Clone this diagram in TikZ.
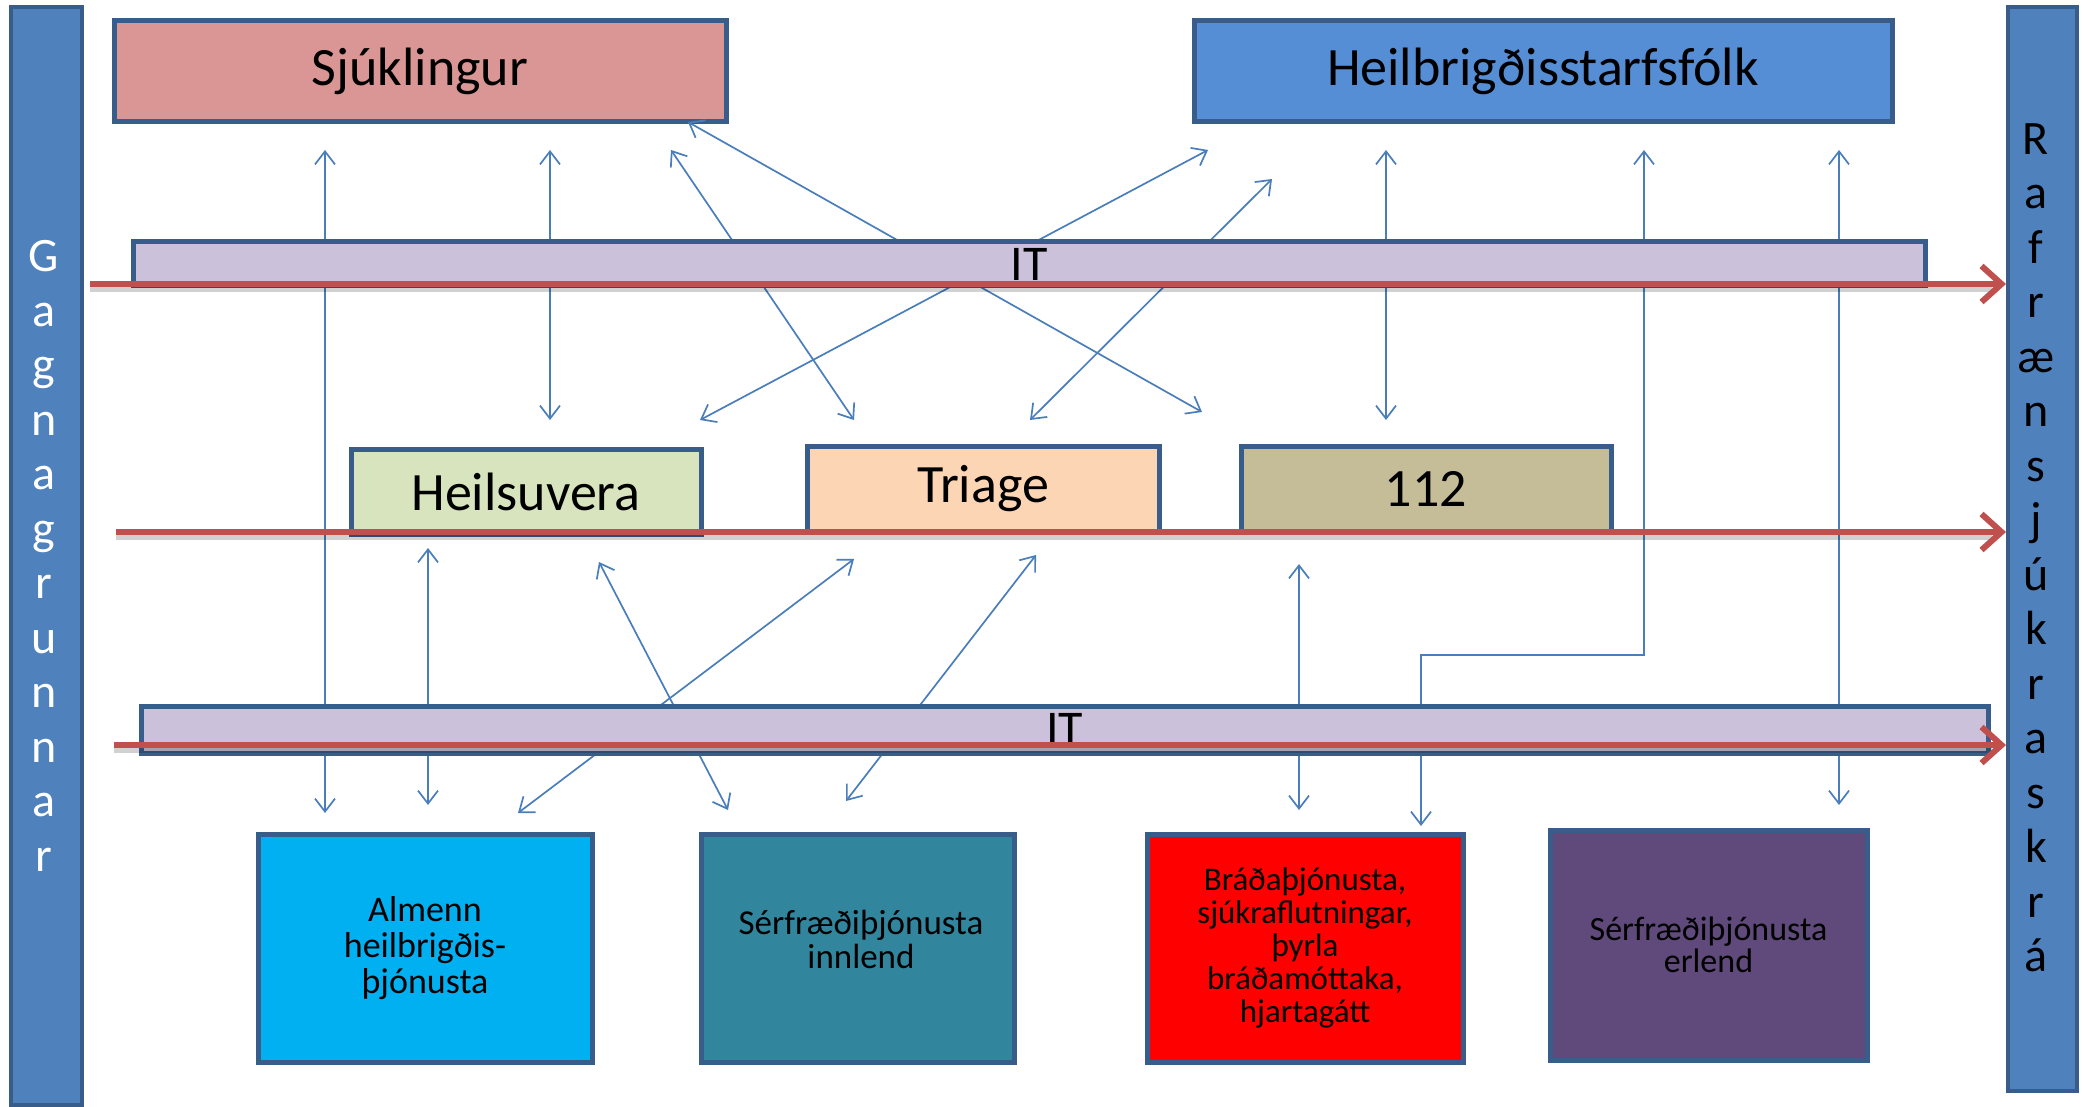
\documentclass[tikz,border=0pt]{standalone}
\usepackage{fontspec}
\setmainfont{Carlito}
\usetikzlibrary{arrows.meta}
\definecolor{bord}{HTML}{385D8A}
\definecolor{barfill}{HTML}{4F81BD}
\definecolor{sjfill}{HTML}{D99694}
\definecolor{hsfill}{HTML}{558ED5}
\definecolor{itfill}{HTML}{CCC1DA}
\definecolor{hvfill}{HTML}{D7E4BD}
\definecolor{trfill}{HTML}{FCD5B5}
\definecolor{emfill}{HTML}{C4BD97}
\definecolor{alfill}{HTML}{00B0F0}
\definecolor{infill}{HTML}{31859C}
\definecolor{brfill}{HTML}{FF0000}
\definecolor{erfill}{HTML}{604A7B}
\definecolor{redline}{HTML}{C0504D}
\definecolor{conn}{HTML}{4A7EBB}
\tikzset{
  box/.style={draw=bord, line width=5pt, inner sep=0pt, align=center, text=black},
  sidebar/.style={draw=bord, line width=4pt, fill=barfill, inner sep=0pt},
  bigtxt/.style={font=\fontsize{54}{60}\selectfont},
  smalltxt/.style={font=\fontsize{35}{34}\selectfont},
  link/.style={draw=conn, line width=1.7pt, {Straight Barb[length=13pt,width=20pt]}-{Straight Barb[length=13pt,width=20pt]}},
  redarrow/.style={draw=redline, line width=6pt, -{Straight Barb[length=20pt,width=36pt]}},
  redshadow/.style={draw=black, opacity=0.18, line width=6pt},
  vletters/.style={align=center, inner sep=0pt, font=\fontsize{48}{54.5}\selectfont}
}
\begin{document}
\begin{tikzpicture}[x=1pt,y=-1pt]
\useasboundingbox (0,0) rectangle (2082,1107);
\fill[white] (0,0) rectangle (2082,1107);
% side bars
\node[sidebar, minimum width=71pt, minimum height=1098pt] (lbar) at (46.5,556) {};
\node[vletters, text=white] (ltext) at (44,556) {G\\a\\g\\n\\a\\g\\r\\u\\n\\n\\a\\r};
\node[sidebar, minimum width=69pt, minimum height=1084pt] (rbar) at (2042.5,549) {};
\node[vletters, text=black] (rtext) at (2036,548) {R\\a\\f\\r\\æ\\n\\s\\j\\ú\\k\\r\\a\\s\\k\\r\\á};
% top boxes
\node[box, fill=sjfill, bigtxt, minimum width=612pt, minimum height=101pt] (sj) at (420,71.5) {Sjúklingur};
\node[box, fill=hsfill, bigtxt, minimum width=698pt, minimum height=101pt] (hs) at (1543,71.5) {Heilbrigðisstarfsfólk};
% middle boxes
\node[box, fill=hvfill, bigtxt, minimum width=350pt, minimum height=85pt] (hv) at (526,491.5) {Heilsuvera};
\node[box, fill=trfill, bigtxt, minimum width=352pt, minimum height=85pt] (tr) at (983,488.5) {Triage};
\node[box, fill=emfill, bigtxt, minimum width=370pt, minimum height=85pt] (em) at (1426,488.5) {112};
% bottom boxes
\node[box, fill=alfill, font=\fontsize{36}{36}\selectfont, minimum width=334pt, minimum height=228pt] (al) at (425,948) {Almenn\\heilbrigðis-\\þjónusta};
\node[box, fill=infill, minimum width=313pt, minimum height=228pt] (in) at (857.5,948) {};
\node[smalltxt, align=center, inner sep=0pt] (intext) at (861,939) {Sérfræðiþjónusta\\innlend};
\node[box, fill=brfill, font=\fontsize{33}{33}\selectfont, minimum width=316pt, minimum height=228pt] (br) at (1305,948) {Bráðaþjónusta,\\sjúkraflutningar,\\þyrla\\bráðamóttaka,\\hjartagátt};
\node[box, fill=erfill, text=black, font=\fontsize{34}{32}\selectfont, minimum width=317pt, minimum height=230pt] (er) at (1708.5,945) {Sérfræðiþjónusta\\erlend};
% connector end points
\coordinate (a1t) at (325,150);  \coordinate (a1b) at (325,813);
\coordinate (a2t) at (550,150);  \coordinate (a2b) at (550,420);
\coordinate (a3t) at (671,150);  \coordinate (a3b) at (854,420);
\coordinate (a4t) at (688,122);  \coordinate (a4b) at (1202,412);
\coordinate (a5t) at (1208,150); \coordinate (a5b) at (700,420);
\coordinate (a6t) at (1272,179); \coordinate (a6b) at (1030,420);
\coordinate (a7t) at (1386,150); \coordinate (a7b) at (1386,420);
\coordinate (a8t) at (1644,150); \coordinate (a8k1) at (1644,655);
\coordinate (a8k2) at (1421,655); \coordinate (a8b) at (1421,826);
\coordinate (a9t) at (1839,150); \coordinate (a9b) at (1839,805);
\coordinate (b1t) at (428,548);  \coordinate (b1b) at (428,805);
\coordinate (b2t) at (599,562);  \coordinate (b2b) at (728,810);
\coordinate (b3t) at (854,559);  \coordinate (b3b) at (518,813);
\coordinate (b4t) at (1036,555); \coordinate (b4b) at (846,801);
\coordinate (b5t) at (1299,564); \coordinate (b5b) at (1299,810);
% connectors
\draw[link] (a1t) -- (a1b);
\draw[link] (a2t) -- (a2b);
\draw[link] (a3t) -- (a3b);
\draw[link] (a4t) -- (a4b);
\draw[link] (a5t) -- (a5b);
\draw[link] (a6t) -- (a6b);
\draw[link] (a7t) -- (a7b);
\draw[link] (a8t) -- (a8k1) -- (a8k2) -- (a8b);
\draw[link] (a9t) -- (a9b);
\draw[link] (b1t) -- (b1b);
\draw[link] (b2t) -- (b2b);
\draw[link] (b3t) -- (b3b);
\draw[link] (b4t) -- (b4b);
\draw[link] (b5t) -- (b5b);
% IT bars
\node[box, fill=itfill, font=\fontsize{50}{50}\selectfont, minimum width=1792pt, minimum height=44pt] (it1) at (1029,264) {IT};
\node[box, fill=itfill, font=\fontsize{50}{50}\selectfont, minimum width=1847pt, minimum height=47pt] (it2) at (1064.5,729.5) {IT};
% red arrows
\coordinate (r1) at (90,284);
\coordinate (r2) at (116,532);
\coordinate (r3) at (114,745);
\foreach \r in {r1,r2,r3}{
  \draw[redshadow] ([yshift=-5pt]\r) -- ([xshift=-14pt,yshift=-5pt]rbar.west |- \r);
  \draw[redarrow] (\r) -- (rbar.west |- \r);
}
\end{tikzpicture}
\end{document}
